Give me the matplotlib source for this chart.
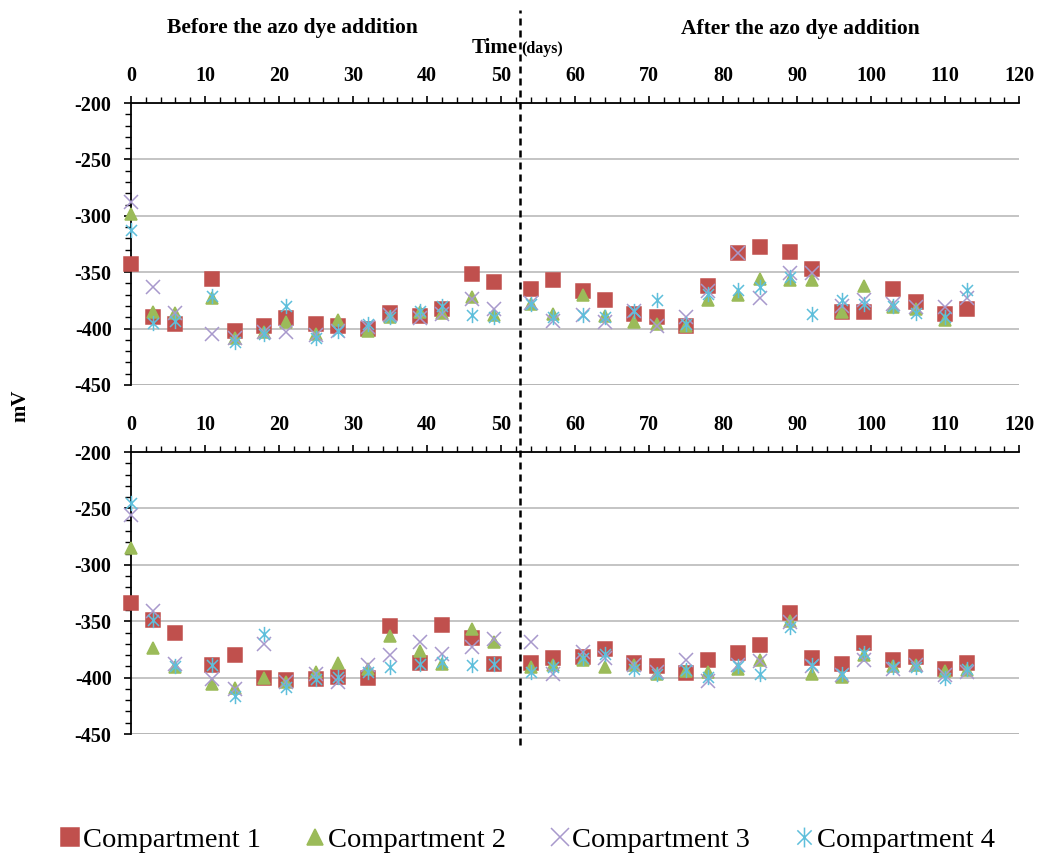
import numpy as np
import matplotlib
matplotlib.use('Agg')
import matplotlib.pyplot as plt
from matplotlib.lines import Line2D
from matplotlib.path import Path
from matplotlib.ticker import MultipleLocator

plt.rcParams['font.family'] = ['Liberation Serif', 'DejaVu Serif']
plt.rcParams['axes.unicode_minus'] = False

# sampling days (same for both reactors)
days = [0, 3, 6, 11, 14, 18, 21, 25, 28, 32, 35, 39, 42, 46, 49,
        54, 57, 61, 64, 68, 71, 75, 78, 82, 85, 89, 92, 96, 99, 103, 106, 110, 113]

# upper panel, mV
top_c1 = [-343, -390, -396, -356, -402, -398, -391, -396, -398, -400, -386, -389, -383, -352, -359,
          -365, -357, -367, -375, -387, -390, -398, -362, -333, -328, -332, -347, -385, -385, -365, -376, -387, -383]
top_c2 = [-298, -385, -386, -373, -408, -403, -394, -405, -392, -402, -390, -385, -386, -372, -388,
          -378, -387, -370, -389, -394, -396, -398, -375, -370, -356, -357, -357, -385, -362, -381, -383, -392]
top_c3 = [-288, -363, -386, -405, -408, -403, -403, -406, -402, -399, -388, -391, -387, -374, -383,
          -377, -393, -388, -394, -384, -398, -390, -367, -333, -373, -351, -351, -380, -375, -378, -381, -381, -373]
top_c4 = [-313, -395, -393, -371, -412, -405, -380, -408, -402, -396, -390, -384, -380, -388, -390,
          -378, -390, -388, -390, -384, -375, -396, -369, -366, -363, -354, -387, -375, -378, -380, -386, -390, -366]

# lower panel, mV
bot_c1 = [-334, -349, -360, -389, -380, -400, -402, -401, -399, -400, -354, -387, -353, -365, -388,
          -387, -383, -382, -375, -387, -390, -396, -384, -378, -371, -343, -383, -388, -369, -384, -382, -392, -387]
bot_c2 = [-285, -374, -391, -406, -409, -400, -404, -395, -387, -392, -363, -376, -388, -357, -368,
          -391, -389, -384, -391, -389, -397, -394, -395, -392, -384, -350, -397, -399, -380, -390, -389, -394, -393]
bot_c3 = [-256, -341, -388, -401, -410, -370, -404, -397, -404, -389, -380, -368, -379, -373, -366,
          -368, -397, -377, -383, -389, -395, -384, -403, -389, -385, -351, -390, -398, -384, -392, -389, -398, -395]
bot_c4 = [-245, -349, -390, -389, -416, -361, -408, -401, -399, -395, -391, -388, -386, -389, -388,
          -395, -391, -383, -379, -392, -397, -393, -399, -390, -397, -355, -389, -397, -378, -391, -391, -400, -392]

labels = ['Compartment 1', 'Compartment 2', 'Compartment 3', 'Compartment 4']
colors = ['#C0504D', '#9BBB59', '#A899CC', '#5EBFDB']
dye_day = 52.5

# asterisk = x plus a vertical bar
ast = Path([(0, -1), (0, 1), (-0.72, -0.72), (0.72, 0.72), (-0.72, 0.72), (0.72, -0.72)],
           [Path.MOVETO, Path.LINETO, Path.MOVETO, Path.LINETO, Path.MOVETO, Path.LINETO])
markers = ['s', '^', 'x', ast]
sizes = [9.5, 9, 10, 11]

fig = plt.figure(figsize=(10.4, 8.57), dpi=100)
left, width = 0.126, 0.854
ax1 = fig.add_axes([left, 0.5508, width, 0.329])
ax2 = fig.add_axes([left, 0.1435, width, 0.329])


def draw_panel(ax, series):
    for i, (vals, lab, col, mk) in enumerate(zip(series, labels, colors, markers)):
        n = len(vals)
        ax.plot(days[:n], vals, ls='none', marker=mk, ms=sizes[i], mew=1.1,
                color=col, label=lab, zorder=3 + i, clip_on=False)
    ax.set_xlim(0, 120)
    ax.set_ylim(-450, -200)
    ax.xaxis.set_major_locator(MultipleLocator(10))
    ax.xaxis.set_minor_locator(MultipleLocator(2))
    ax.yaxis.set_major_locator(MultipleLocator(50))
    ax.yaxis.set_minor_locator(MultipleLocator(10))
    ax.xaxis.tick_top()
    ax.tick_params(axis='x', which='major', direction='out', length=5, width=1.2, pad=7)
    ax.tick_params(axis='x', which='minor', direction='out', length=4, width=1)
    ax.tick_params(axis='y', which='major', direction='out', length=5, width=1.2, pad=9)
    ax.tick_params(axis='y', which='minor', direction='out', length=4, width=1)
    for lab in ax.get_xticklabels() + ax.get_yticklabels():
        lab.set_fontweight('bold')
        lab.set_fontsize(14.5)
    ax.spines['right'].set_visible(False)
    ax.spines['bottom'].set_visible(False)
    ax.spines['top'].set_linewidth(1.3)
    ax.spines['left'].set_linewidth(1.3)
    ax.grid(axis='y', which='major', color='#B4B4B4', lw=1.1)
    ax.set_axisbelow(True)
    # grid line at -450 where the bottom spine would be
    ax.axhline(-450, color='#B4B4B4', lw=1.1, zorder=1)


draw_panel(ax1, [top_c1, top_c2, top_c3, top_c4])
draw_panel(ax2, [bot_c1, bot_c2, bot_c3, bot_c4])

# dashed line marking the dye addition, running through both panels
xf = left + width * dye_day / 120
fig.add_artist(Line2D([xf, xf], [1 - 745 / 857, 1 - 10 / 857], transform=fig.transFigure,
                      color='black', lw=1.8, ls=(0, (2.8, 2.0))))

fig.text(0.281, 0.967, 'Before the azo dye addition', ha='center', va='center',
         fontsize=15.5, fontweight='bold')
fig.text(0.77, 0.966, 'After the azo dye addition', ha='center', va='center',
         fontsize=15.5, fontweight='bold')
fig.text(xf - 0.002, 0.944, 'Time', ha='right', va='center', fontsize=15, fontweight='bold')
fig.text(xf + 0.002, 0.943, '(days)', ha='left', va='center', fontsize=11.5, fontweight='bold')
fig.text(0.02, 0.527, 'mV', ha='center', va='center', rotation=90, fontsize=15, fontweight='bold')

handles, labs = ax1.get_legend_handles_labels()
fig.legend(handles, labs, loc='center', bbox_to_anchor=(0.508, 0.02), ncol=4, frameon=False,
           fontsize=20.5, markerscale=1.3, handlelength=0.6, handletextpad=0.15, columnspacing=1.6)

fig.savefig('out.png', dpi=100)
